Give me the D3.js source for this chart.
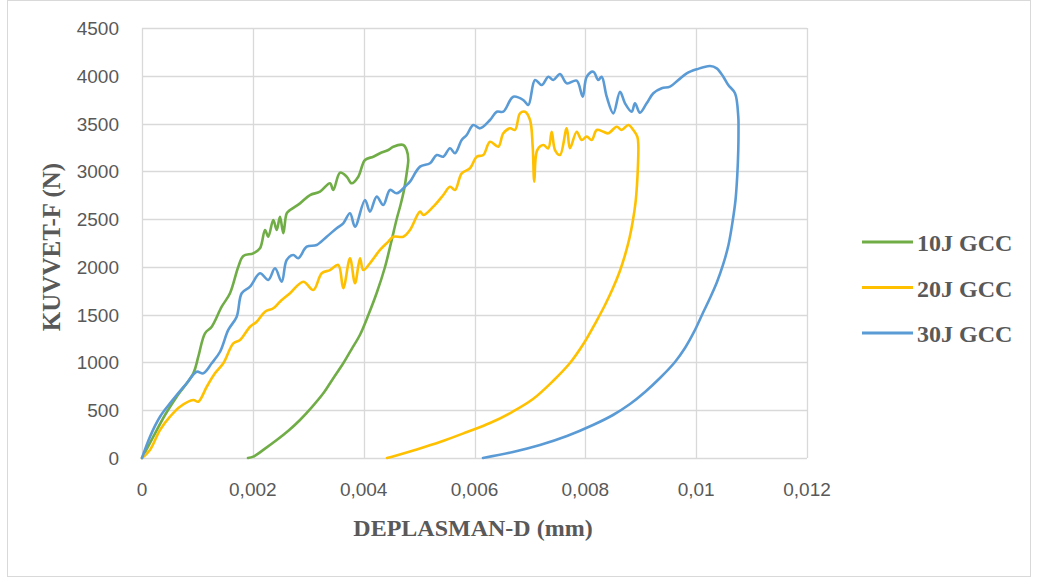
<!DOCTYPE html>
<html>
<head>
<meta charset="utf-8">
<script src="https://cdn.jsdelivr.net/npm/d3@7"></script>
<style>
  body { margin: 0; background: #fff; }
  svg { display: block; }
</style>
</head>
<body>
<script>
const width = 1038;
const height = 581;

// tick values
const xTicks = [0, 0.002, 0.004, 0.006, 0.008, 0.01, 0.012];
const yTicks = [0, 500, 1000, 1500, 2000, 2500, 3000, 3500, 4000, 4500];

const seriesNames = ["10J GCC", "20J GCC", "30J GCC"];
const seriesColors = ["#70AD47", "#FFC000", "#5B9BD5"];

// [displacement (mm), force (N)]
const gcc10 = [
  [0, 0], [0.000204, 223], [0.000415, 450], [0.000626, 642], [0.000926, 886],
  [0.001016, 1060], [0.001137, 1305], [0.001258, 1374], [0.001438, 1583],
  [0.001588, 1724], [0.001738, 2002], [0.001828, 2114], [0.002008, 2142],
  [0.002129, 2194], [0.00222, 2386], [0.002279, 2316], [0.002369, 2491],
  [0.002431, 2386], [0.00249, 2525], [0.00255, 2352], [0.002611, 2561],
  [0.002671, 2595], [0.002851, 2665], [0.003032, 2752], [0.003212, 2787],
  [0.003392, 2875], [0.003452, 2805], [0.003573, 2986], [0.003694, 2944],
  [0.003784, 2875], [0.003903, 2944], [0.004024, 3119], [0.004174, 3153],
  [0.004295, 3189], [0.004445, 3223], [0.004535, 3258], [0.004715, 3276],
  [0.004776, 3223], [0.004805, 3119],
  [0.004782, 3003], [0.004728, 2805], [0.004665, 2648], [0.004596, 2501],
  [0.004493, 2250], [0.004385, 1999], [0.004241, 1737], [0.004084, 1496],
  [0.003934, 1290], [0.003778, 1135], [0.003632, 991], [0.003452, 835],
  [0.003272, 677], [0.003062, 530], [0.002851, 398], [0.002641, 285],
  [0.002431, 188], [0.00222, 98], [0.002008, 14], [0.001913, 0]
];

const gcc20 = [
  [0, 0], [0.000144, 84], [0.000325, 293], [0.000505, 432], [0.000686, 537],
  [0.000926, 607], [0.001016, 589], [0.001168, 746], [0.001317, 886],
  [0.001467, 991], [0.001648, 1200], [0.001768, 1235], [0.001949, 1374],
  [0.00207, 1426], [0.00222, 1531], [0.002369, 1567], [0.00249, 1636],
  [0.002671, 1724], [0.002911, 1845], [0.003091, 1758], [0.003243, 1933],
  [0.003392, 1967], [0.003542, 2020], [0.003632, 1776], [0.003753, 2090],
  [0.003844, 1828], [0.003934, 2090], [0.003993, 1967], [0.004114, 2038],
  [0.004295, 2177], [0.004445, 2264], [0.004535, 2316], [0.004715, 2316],
  [0.004836, 2386], [0.005017, 2578], [0.005076, 2543], [0.005257, 2630],
  [0.005437, 2752], [0.005558, 2839], [0.005648, 2805], [0.005769, 2979],
  [0.005919, 3032], [0.00604, 3153], [0.006159, 3171], [0.00628, 3310],
  [0.00643, 3258], [0.00652, 3398], [0.006641, 3450], [0.006731, 3433],
  [0.006821, 3607], [0.006911, 3624], [0.007002, 3537], [0.00705, 3258],
  [0.007079, 2892], [0.007133, 3223], [0.007242, 3276], [0.007332, 3241],
  [0.007393, 3415], [0.007453, 3223], [0.007543, 3171], [0.007664, 3450],
  [0.007723, 3241], [0.007844, 3415], [0.007934, 3328], [0.008025, 3363],
  [0.008115, 3328], [0.008205, 3433], [0.008324, 3415], [0.008415, 3398],
  [0.008566, 3467], [0.008656, 3433], [0.008776, 3485], [0.008866, 3433],
  [0.008938, 3363],
  [0.008956, 3276], [0.00895, 3066], [0.008932, 2857], [0.008905, 2669],
  [0.00886, 2491], [0.008797, 2302], [0.008716, 2124], [0.008617, 1947],
  [0.008499, 1779], [0.008355, 1601], [0.008192, 1423], [0.007976, 1203],
  [0.007723, 994], [0.007417, 806], [0.007056, 617], [0.006677, 481],
  [0.00628, 366], [0.005865, 272], [0.005377, 167], [0.004926, 84],
  [0.004529, 16], [0.004421, 0]
];

const gcc30 = [
  [0, 0], [0.000144, 223], [0.000325, 432], [0.000505, 572], [0.000626, 659],
  [0.000807, 782], [0.000987, 903], [0.001106, 886], [0.001258, 991],
  [0.001408, 1112], [0.001557, 1340], [0.001709, 1479], [0.001799, 1724],
  [0.001949, 1793], [0.002129, 1933], [0.002279, 1863], [0.0024, 1985],
  [0.002521, 1845], [0.002611, 2072], [0.00273, 2124], [0.00282, 2090],
  [0.002972, 2211], [0.003152, 2229], [0.003333, 2316], [0.003513, 2404],
  [0.003632, 2456], [0.003753, 2561], [0.003844, 2421], [0.004024, 2700],
  [0.004114, 2578], [0.004235, 2735], [0.004354, 2648], [0.004475, 2805],
  [0.004596, 2770], [0.004776, 2857], [0.004836, 2892], [0.005017, 3049],
  [0.005197, 3084], [0.005318, 3171], [0.005437, 3153], [0.005558, 3241],
  [0.005648, 3189], [0.005769, 3328], [0.005859, 3380], [0.005978, 3485],
  [0.006099, 3450], [0.00628, 3537], [0.006401, 3624], [0.00652, 3624],
  [0.0067, 3781], [0.006881, 3746], [0.006971, 3694], [0.007092, 3956],
  [0.007213, 3903], [0.007332, 3990], [0.007422, 3956], [0.007543, 4019],
  [0.007664, 3921], [0.007844, 3949], [0.007953, 3781], [0.008025, 3990],
  [0.008144, 4043], [0.008234, 3956], [0.008295, 3990], [0.008386, 3781],
  [0.008505, 3607], [0.008626, 3833], [0.008716, 3712], [0.008837, 3624],
  [0.008896, 3712], [0.008986, 3614], [0.009107, 3712], [0.009227, 3817],
  [0.009378, 3869], [0.009528, 3886], [0.009678, 3956], [0.009829, 4026],
  [0.01001, 4068], [0.01025, 4102], [0.010371, 4078], [0.01049, 3990],
  [0.01058, 3903], [0.010701, 3817], [0.01076, 3572],
  [0.010764, 3433], [0.01076, 3223], [0.010742, 2962], [0.01071, 2700],
  [0.010656, 2470], [0.010583, 2229], [0.010484, 2020], [0.010376, 1842],
  [0.01025, 1674], [0.010105, 1497], [0.009961, 1319], [0.009798, 1151],
  [0.009618, 1005], [0.009347, 837], [0.009077, 691], [0.008806, 565],
  [0.008499, 450], [0.008138, 345], [0.007669, 230], [0.007182, 136],
  [0.006695, 63], [0.006153, 0]
];

const allSeries = [gcc10, gcc20, gcc30];

const margin = { left: 142, right: 231, top: 28, bottom: 123 };
const plotW = width - margin.left - margin.right;
const plotH = height - margin.top - margin.bottom;

const x = d3.scaleLinear().domain([0, 0.012]).range([0, plotW]);
const y = d3.scaleLinear().domain([0, 4500]).range([plotH, 0]);

const svg = d3
  .select("body")
  .append("svg")
  .attr("width", width)
  .attr("height", height);

// chart border
svg
  .append("rect")
  .attr("x", 7.5)
  .attr("y", 0.5)
  .attr("width", 1023)
  .attr("height", 576)
  .attr("fill", "#fff")
  .attr("stroke", "#D9D9D9");

const g = svg
  .append("g")
  .attr("transform", `translate(${margin.left},${margin.top})`);

// gridlines
g.append("g")
  .selectAll("line")
  .data(yTicks)
  .enter()
  .append("line")
  .attr("x1", 0)
  .attr("x2", plotW)
  .attr("y1", (d) => Math.round(y(d)) + 0.5)
  .attr("y2", (d) => Math.round(y(d)) + 0.5)
  .attr("stroke", "#D9D9D9")
  .attr("stroke-width", 1.3);

g.append("g")
  .selectAll("line")
  .data(xTicks)
  .enter()
  .append("line")
  .attr("x1", (d) => Math.round(x(d)) + 0.5)
  .attr("x2", (d) => Math.round(x(d)) + 0.5)
  .attr("y1", 0)
  .attr("y2", plotH)
  .attr("stroke", "#D9D9D9")
  .attr("stroke-width", 1.3);

// tick labels
const fmt = (d) => String(d).replace(".", ",");

g.append("g")
  .selectAll("text")
  .data(yTicks)
  .enter()
  .append("text")
  .attr("x", -23)
  .attr("y", (d) => y(d) + 7)
  .attr("text-anchor", "end")
  .attr("font-family", "Liberation Sans, Arial, sans-serif")
  .attr("font-size", 19)
  .attr("fill", "#595959")
  .text((d) => d);

g.append("g")
  .selectAll("text")
  .data(xTicks)
  .enter()
  .append("text")
  .attr("x", (d) => x(d))
  .attr("y", plotH + 38)
  .attr("text-anchor", "middle")
  .attr("font-family", "Liberation Sans, Arial, sans-serif")
  .attr("font-size", 19)
  .attr("fill", "#595959")
  .text(fmt);

// series, lightly smoothed like the original plot
const line = d3
  .line()
  .x((d) => x(d[0]))
  .y((d) => y(d[1]))
  .curve(d3.curveCatmullRom.alpha(0.5));

g.append("g")
  .selectAll("path")
  .data(allSeries)
  .enter()
  .append("path")
  .attr("d", line)
  .attr("fill", "none")
  .attr("stroke", (d, i) => seriesColors[i])
  .attr("stroke-width", 2.6)
  .attr("stroke-linejoin", "round")
  .attr("stroke-linecap", "round");

// axis titles
svg
  .append("text")
  .attr("x", 473)
  .attr("y", 536)
  .attr("text-anchor", "middle")
  .attr("font-family", "Liberation Serif, Times New Roman, serif")
  .attr("font-weight", "bold")
  .attr("font-size", 24)
  .attr("fill", "#595959")
  .text("DEPLASMAN-D (mm)");

svg
  .append("text")
  .attr("transform", "translate(60,247) rotate(-90)")
  .attr("text-anchor", "middle")
  .attr("font-family", "Liberation Serif, Times New Roman, serif")
  .attr("font-weight", "bold")
  .attr("font-size", 25)
  .attr("fill", "#595959")
  .text("KUVVET-F (N)");

// legend
const legend = svg
  .append("g")
  .selectAll("g")
  .data(seriesNames)
  .enter()
  .append("g")
  .attr("transform", (d, i) => `translate(862,${242 + i * 45.5})`);

legend
  .append("line")
  .attr("x1", 0)
  .attr("x2", 51)
  .attr("stroke", (d, i) => seriesColors[i])
  .attr("stroke-width", 3);

legend
  .append("text")
  .attr("x", 55)
  .attr("y", 9)
  .attr("font-family", "Liberation Serif, Times New Roman, serif")
  .attr("font-weight", "bold")
  .attr("font-size", 24)
  .attr("fill", "#595959")
  .text((d) => d);
</script>
</body>
</html>
